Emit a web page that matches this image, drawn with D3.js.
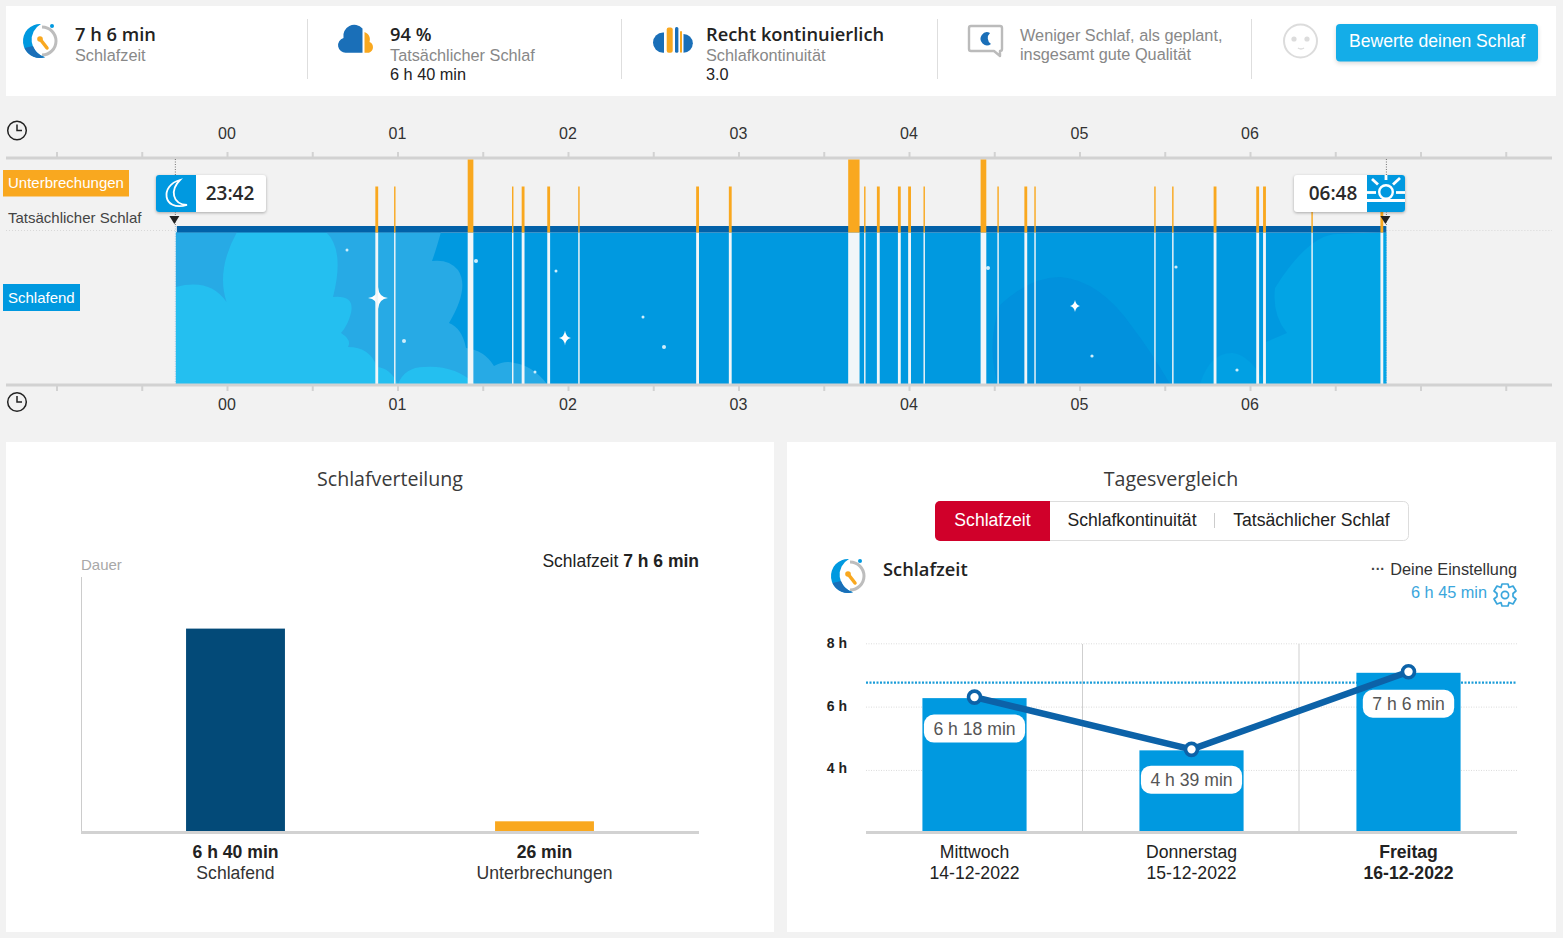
<!DOCTYPE html>
<html lang="de">
<head>
<meta charset="utf-8">
<title>Schlaf</title>
<script src="https://cdn.jsdelivr.net/npm/d3@7"></script>
<style>
html,body{margin:0;padding:0;background:#f2f2f2;overflow:hidden}
svg{display:block}
text{font-family:"Liberation Sans",Arial,sans-serif}
.os{font-family:"Open Sans",sans-serif}
.axis path{stroke:#d2d2d2;stroke-width:3}
.axis line{stroke:#d2d2d2;stroke-width:2}
.axis text{font-size:16px;fill:#333}
</style>
</head>
<body>
<svg id="c" width="1563" height="938" viewBox="0 0 1563 938"></svg>
<script>
// ---------- data ----------
const sleepStartMin = -18;              // 23:42
const sleepEndMin = 408;                // 06:48
const timeTicksMin = [-60,-30,0,30,60,90,120,150,180,210,240,270,300,330,360,390,420,450];
const hourLabels = ["00","01","02","03","04","05","06"];
const interruptionStart = [52.2,58.8,84.7,100.3,103.7,112.7,123.6,165.1,176.6,218.6,224.2,228.7,236.1,239.7,245.1,265.2,271.1,280.6,284.1,326.3,332.6,347.2,362.2,364.6,381.6,405.9];
const interruptionLength = [1,0.5,2,0.5,1,1,0.5,1,1,4,0.5,1,1,1,0.5,2,0.5,1,0.5,0.5,0.5,1,1,1,0.5,1];
const distCategories = ["Schlafend","Unterbrechungen"];
const distMinutes = [400,26];
const distLabels = ["6 h 40 min","26 min"];
const distColors = ["#034a78","#f9a81f"];
const days = ["Mittwoch","Donnerstag","Freitag"];
const dates = ["14-12-2022","15-12-2022","16-12-2022"];
const sleepHours = [6.3,4.65,7.1];
const sleepHourLabels = ["6 h 18 min","4 h 39 min","7 h 6 min"];
const goalHours = 6.75;
const hourTicks = [8,6,4];
const segments = ["Schlafzeit","Schlafkontinuität","Tatsächlicher Schlaf"];

// ---------- helpers ----------
const svg = d3.select("#c");
const BLUE="#0099e0", ORANGE="#f9a81f", DARK="#1a6fb8";
function txt(p,x,y,s,o={}){
  const t=p.append("text").attr("x",x).attr("y",y).text(s)
    .attr("font-size",o.size||16.3).attr("fill",o.fill||"#333")
    .attr("text-anchor",o.anchor||"start");
  if(o.weight) t.attr("font-weight",o.weight);
  if(o.cls) t.attr("class",o.cls);
  return t;
}
function rect(p,x,y,w,h,f,r){return p.append("rect").attr("x",x).attr("y",y).attr("width",w).attr("height",h).attr("fill",f).attr("rx",r||0);}
function sleepIcon(x,y){
  const g=svg.append("g").attr("transform",`translate(${x},${y})`);
  g.append("path").attr("d","M2,-14 A14,14 0 1 1 2,14").attr("fill","none").attr("stroke","#bdbdbd").attr("stroke-width",3);
  g.append("path").attr("d","M1,-17 A17,17 0 1 0 5,16.2 A18,18 0 0 1 1,-17Z").attr("fill",BLUE);
  g.append("path").attr("d","M-15.5,7 A17,17 0 0 0 5,16.2 A18,18 0 0 1 -7,5Z").attr("fill",DARK);
  g.append("line").attr("x1",0).attr("y1",-2).attr("x2",7).attr("y2",7).attr("stroke",ORANGE).attr("stroke-width",3.5).attr("stroke-linecap","round");
  g.append("circle").attr("cx",0).attr("cy",-2).attr("r",2.8).attr("fill",ORANGE);
  g.append("circle").attr("cx",12).attr("cy",-15).attr("r",2).attr("fill",BLUE);
}
function clockIcon(x,y){
  const g=svg.append("g").attr("transform",`translate(${x},${y})`).attr("fill","none").attr("stroke","#222").attr("stroke-width",1.5);
  g.append("circle").attr("r",9.3);
  g.append("path").attr("d","M0,-6 V0 H5");
}

// ---------- top summary card ----------
rect(svg,6,6,1550,90,"#fff");
[308,622,938,1252].forEach(x=>svg.append("line").attr("x1",x-.5).attr("x2",x-.5).attr("y1",19).attr("y2",79).attr("stroke","#dedede"));
sleepIcon(40,41);
txt(svg,75,41,"7 h 6 min",{size:18.3,weight:600,cls:"os",fill:"#222"});
txt(svg,75,61,"Schlafzeit",{fill:"#888"});
svg.append("path").attr("d","M362.5,52.7 H346 A7.5,7.5 0 0 1 343.5,38 A11,11 0 0 1 362.5,28.5Z").attr("fill",DARK);
svg.append("path").attr("d","M364.5,32 C370,34 370.5,39 369.5,42 C374,43.5 374.5,51 369,52.7 H364.5Z").attr("fill",ORANGE);
txt(svg,390,41,"94 %",{size:18.3,weight:600,cls:"os",fill:"#222"});
txt(svg,390,61,"Tatsächlicher Schlaf",{fill:"#888"});
txt(svg,390,80,"6 h 40 min",{fill:"#222"});
svg.append("path").attr("d","M664,32.5 V52.7 H663 A10,10.1 0 0 1 663,32.5Z").attr("fill",DARK);
rect(svg,666.7,27.5,6,25.2,ORANGE,2);
rect(svg,675,27,3.4,25.7,DARK,1.5);
rect(svg,680,31,2,21.7,ORANGE,1);
svg.append("path").attr("d","M683.5,34 A9,9 0 0 1 683.5,52.7Z").attr("fill",DARK);
txt(svg,706,41,"Recht kontinuierlich",{size:18.3,weight:600,cls:"os",fill:"#222"});
txt(svg,706,61,"Schlafkontinuität",{fill:"#888"});
txt(svg,706,80,"3.0",{fill:"#222"});
svg.append("path").attr("d","M971,26 H1000 A2,2 0 0 1 1002,28 V49 A2,2 0 0 1 1000,51 V56 L994,51 H971 A2,2 0 0 1 969,49 V28 A2,2 0 0 1 971,26Z").attr("fill","#fff").attr("stroke","#bbb").attr("stroke-width",2.4).attr("stroke-linejoin","round");
svg.append("path").attr("d","M990,33 A6.5,6.5 0 1 0 991,44 A7,7 0 0 1 990,33Z").attr("fill",DARK);
txt(svg,1020,41,"Weniger Schlaf, als geplant,",{fill:"#888"});
txt(svg,1020,60,"insgesamt gute Qualität",{fill:"#888"});
svg.append("circle").attr("cx",1300.5).attr("cy",41).attr("r",16.5).attr("fill","none").attr("stroke","#dcdcdc").attr("stroke-width",2);
[1294,1307].forEach(x=>svg.append("circle").attr("cx",x).attr("cy",39).attr("r",2.6).attr("fill","#dcdcdc"));
svg.append("path").attr("d","M1298,48 Q1301,50 1304,48").attr("fill","none").attr("stroke","#dcdcdc").attr("stroke-width",1.5);
rect(svg,1336,24,202,37.5,"#14ade8",4).style("filter","drop-shadow(0 2px 2px rgba(0,0,0,.15))");
txt(svg,1437,46.8,"Bewerte deinen Schlaf",{size:17.6,fill:"#fff",anchor:"middle"});

// ---------- timeline ----------
const x = d3.scaleLinear().domain([0,360]).range([227,1250]);
const hourLabel = m => (m>=0 && m%60===0 && hourLabels[m/60]) || "";
const topAxis = d3.axisTop(x).tickValues(timeTicksMin).tickSize(6).tickPadding(13).tickSizeOuter(0).tickFormat(hourLabel);
const botAxis = d3.axisBottom(x).tickValues(timeTicksMin).tickSize(6).tickPadding(7.5).tickSizeOuter(0).tickFormat(hourLabel);
const axisDomainOverride = sel => {sel.select(".domain").attr("d","M6,0H1552"); sel.selectAll("text").attr("dx",-.5);};
svg.append("g").attr("class","axis").attr("transform","translate(0,158)").call(topAxis).call(axisDomainOverride);

const sx0=x(sleepStartMin), sx1=x(sleepEndMin);
const yStripe=226, ySleep=232.5, yBase=384;
svg.append("line").attr("x1",6).attr("x2",sx0).attr("y1",230.5).attr("y2",230.5).attr("stroke","#d8d8d8").attr("stroke-dasharray","1 2");
svg.append("line").attr("x1",sx1).attr("x2",1552).attr("y1",230.5).attr("y2",230.5).attr("stroke","#d8d8d8").attr("stroke-dasharray","1 2");

const defs=svg.append("defs");
defs.append("clipPath").attr("id","sleepClip").append("rect").attr("x",sx0).attr("y",ySleep).attr("width",sx1-sx0).attr("height",yBase-ySleep);
rect(svg,sx0,ySleep,sx1-sx0,yBase-ySleep,BLUE);
const art=svg.append("g").attr("clip-path","url(#sleepClip)");
// decorative night-sky artwork behind the timeline
art.append("path").attr("fill","#27aae5").attr("d","M176,232 H441 Q436,250 432,261 Q449,259 458,270 Q470,288 449,323 Q462,328 466,348 Q484,350 494,366 Q505,360 514,363 Q532,365 547,384 H176Z");
art.append("path").attr("fill","#24bff0").attr("d","M176,287 Q210,278 226.5,302 Q216,270 237,232 H326 Q345,250 333,297 Q355,295 351,313 Q348,325 341,333 Q352,340 348,347 Q370,347 377,367 Q390,368 398,384 Q405,367 424,367 Q455,365 475,384 H176Z");
art.append("path").attr("fill","#0189da").attr("opacity",.5).attr("d","M998,384 Q986,345 1000,305 Q1030,277 1060,277 Q1100,280 1133,328 Q1150,350 1170,384Z");
art.append("path").attr("fill","#02a4e5").attr("d","M1388,232 L1340,234 Q1310,232 1275,288 Q1272,315 1287,333 L1266,342 Q1262,365 1262,384 H1388Z");
art.append("path").attr("fill","#01a0e3").attr("d","M1200,384 Q1210,352 1233,353 Q1250,355 1266,384Z");
// stars
[[347,250,1.5],[404,341,2],[476,261,2],[556,271,1.5],[643,317,1.5],[664,347,2],[535,372,1.5],[988,268,2],[1092,356,1.6],[1176,267,1.6],[1237,370,1.6]]
 .forEach(d=>art.append("circle").attr("cx",d[0]).attr("cy",d[1]).attr("r",d[2]).attr("fill","#cfeefb"));
const star=(cx,cy,rx,ry)=>`M${cx},${cy-ry} Q${cx+.8},${cy-.8} ${cx+rx},${cy} Q${cx+.8},${cy+.8} ${cx},${cy+ry} Q${cx-.8},${cy+.8} ${cx-rx},${cy} Q${cx-.8},${cy-.8} ${cx},${cy-ry}Z`;
[[378,298,10,11],[565,338,6,7.5],[1075,306,5,6]].forEach(d=>art.append("path").attr("d",star(...d)).attr("fill","#fff"));

// actual sleep stripe
rect(svg,sx0+1,yStripe,sx1-sx0-1,ySleep-yStripe,"#0261a8");

const interruptions = interruptionStart.map((s,i)=>({s,len:interruptionLength[i]}));
svg.append("g").selectAll("rect").data(interruptions).join("rect")
  .attr("x",d=>x(d.s)).attr("width",d=>x(d.s+d.len)-x(d.s))
  .attr("y",ySleep).attr("height",yBase-ySleep).attr("fill","#f1f6f8");
svg.append("g").selectAll("rect").data(interruptions).join("rect")
  .attr("x",d=>x(d.s)).attr("width",d=>x(d.s+d.len)-x(d.s))
  .attr("y",d=>d.len>=2?159.5:186.5).attr("height",d=>ySleep-(d.len>=2?159.5:186.5)).attr("fill",ORANGE);

[sx0-.5,sx1].forEach(px=>{
  svg.append("line").attr("x1",px).attr("x2",px).attr("y1",159).attr("y2",yStripe).attr("stroke","#555").attr("stroke-width",.8).attr("stroke-dasharray","1 1.5");
  svg.append("line").attr("x1",px).attr("x2",px).attr("y1",yStripe).attr("y2",yBase).attr("stroke","#9ccbe4").attr("stroke-width",1).attr("stroke-dasharray","1 1.5");
});
svg.append("g").attr("class","axis").attr("transform","translate(0,385)").call(botAxis).call(axisDomainOverride);
[sx0-1.5,sx1-1].forEach(px=>svg.append("path").attr("d",`M${px-5},216 h10 l-5,8Z`).attr("fill","#222"));
clockIcon(17,130.5); clockIcon(17,402);

// row labels
rect(svg,3,170,126,26.5,ORANGE);
txt(svg,8,188,"Unterbrechungen",{size:15,fill:"#fff"});
txt(svg,8,222.5,"Tatsächlicher Schlaf",{size:15,fill:"#444"});
rect(svg,3,284,77,27,BLUE);
txt(svg,8,302.5,"Schlafend",{size:15,fill:"#fff"});

// start marker
const shadow="drop-shadow(0 1px 1.5px rgba(0,0,0,.3))";
rect(svg,156,175,110,37,"#fff",3).style("filter",shadow);
svg.append("path").attr("d","M159,175 H196 V212 H159 A3,3 0 0 1 156,209 V178 A3,3 0 0 1 159,175Z").attr("fill",BLUE);
svg.append("path").attr("d","M180,180 C160,185 162,212 187,205 C172,204 170,190 180,180Z").attr("fill","none").attr("stroke","#fff").attr("stroke-width",1.8);
txt(svg,230,200,"23:42",{size:19,weight:600,cls:"os",fill:"#2a2a2a",anchor:"middle"});
// end marker
rect(svg,1294,175,111,37,"#fff",3).style("filter",shadow);
svg.append("path").attr("d","M1367,175 H1402 A3,3 0 0 1 1405,178 V209 A3,3 0 0 1 1402,212 H1367Z").attr("fill",BLUE);
svg.append("circle").attr("cx",1386).attr("cy",192).attr("r",6.8).attr("fill",BLUE).attr("stroke","#fff").attr("stroke-width",2.4);
const sun=svg.append("g").attr("stroke","#fff").attr("stroke-width",2.8);
[[1386,175,1386,180],[1372,179,1378,184.5],[1400,178,1393,184.5],[1367,192.5,1376,192.5],[1396,192.5,1405,192.5]]
  .forEach(d=>sun.append("line").attr("x1",d[0]).attr("y1",d[1]).attr("x2",d[2]).attr("y2",d[3]));
rect(svg,1367,199,38,3,"#fff");
txt(svg,1333,200,"06:48",{size:19,weight:600,cls:"os",fill:"#2a2a2a",anchor:"middle"});

// ---------- bottom-left panel ----------
rect(svg,6,442,768,490,"#fff");
txt(svg,390,486,"Schlafverteilung",{size:19.6,cls:"os",anchor:"middle",fill:"#3a3a3a"});
txt(svg,81,570,"Dauer",{size:15,fill:"#a8a8a8"});
const st=txt(svg,699,567,"Schlafzeit ",{size:17.5,anchor:"end",fill:"#222"});
st.append("tspan").attr("font-weight","bold").text("7 h 6 min");
svg.append("line").attr("x1",81.5).attr("x2",81.5).attr("y1",577).attr("y2",832).attr("stroke","#ccc");
const xd = d3.scaleBand().domain(distCategories).range([81,699]).paddingInner(.68).paddingOuter(.34);
// the picture's short bar is drawn shorter than linear, so the scale is piecewise
const yd = d3.scaleLinear().domain([0,26,400]).range([832,821.3,628.6]);
svg.append("g").selectAll("rect").data(distCategories).join("rect")
  .attr("x",d=>xd(d)).attr("width",xd.bandwidth())
  .attr("y",(d,i)=>yd(distMinutes[i])).attr("height",(d,i)=>832-yd(distMinutes[i]))
  .attr("fill",(d,i)=>distColors[i]);
svg.append("line").attr("x1",81).attr("x2",699).attr("y1",832.5).attr("y2",832.5).attr("stroke","#d2d2d2").attr("stroke-width",3);
distCategories.forEach((c,i)=>{
  const cx=xd(c)+xd.bandwidth()/2;
  txt(svg,cx,858,distLabels[i],{size:17.6,weight:"bold",anchor:"middle",fill:"#222"});
  txt(svg,cx,879,c,{size:17.6,anchor:"middle",fill:"#333"});
});

// ---------- bottom-right panel ----------
rect(svg,787,442,769,490,"#fff");
txt(svg,1171,486,"Tagesvergleich",{size:19.6,cls:"os",anchor:"middle",fill:"#3a3a3a"});
rect(svg,935.5,501.5,473,39,"#fff",5).attr("stroke","#ddd");
svg.append("path").attr("d","M940,501 H1050 V541 H940 A5,5 0 0 1 935,536 V506 A5,5 0 0 1 940,501Z").attr("fill","#d0002a");
[992.5,1132,1311.5].forEach((cx,i)=>txt(svg,cx,526.3,segments[i],{size:17.6,anchor:"middle",fill:i?"#222":"#fff"}));
svg.append("line").attr("x1",1214.5).attr("x2",1214.5).attr("y1",513).attr("y2",528).attr("stroke","#ccc");
sleepIcon(848,576);
txt(svg,883,576,"Schlafzeit",{size:18.3,weight:600,cls:"os",fill:"#222"});
txt(svg,1517,575,"Deine Einstellung",{size:16.3,anchor:"end",fill:"#333"});
txt(svg,1371,574,"···",{size:14,weight:"bold",fill:"#444"});
txt(svg,1487,598,"6 h 45 min",{size:16.3,anchor:"end",fill:"#3aa6dc"});
// gear
const gear=svg.append("g").attr("transform","translate(1505,595)");
gear.append("path").attr("fill","none").attr("stroke","#3aa6dc").attr("stroke-width",1.7).attr("stroke-linejoin","round")
  .attr("d","M-3,-11 H3 L4,-7.5 L8,-9 L11,-4 L8,-1.5 V1.5 L11,4 L8,9 L4,7.5 L3,11 H-3 L-4,7.5 L-8,9 L-11,4 L-8,1.5 V-1.5 L-11,-4 L-8,-9 L-4,-7.5Z");
gear.append("circle").attr("r",3.6).attr("fill","none").attr("stroke","#3aa6dc").attr("stroke-width",1.7);

const xc = d3.scaleBand().domain(days).range([866,1517]).paddingInner(.52).paddingOuter(.26);
const yc = d3.scaleLinear().domain([2.04,8]).range([832,643.3]);
const yAxisC = d3.axisLeft(yc).tickValues(hourTicks).tickSize(0).tickPadding(19).tickFormat(d=>d+" h");
const yG=svg.append("g").attr("transform","translate(866,0)").call(yAxisC);
yG.select(".domain").remove();
const tickLabelNudge=[0,-.8,-1.8];
yG.selectAll("text").attr("font-size",14).attr("font-weight","bold").attr("fill","#222").attr("dy",".3em").attr("y",(d,i)=>tickLabelNudge[i]);
yG.selectAll(".tick").append("line").attr("x2",651).attr("stroke","#dcdcdc").attr("stroke-dasharray","1 1.5");
[1082.5,1299].forEach(px=>svg.append("line").attr("x1",px).attr("x2",px).attr("y1",644).attr("y2",832).attr("stroke","#cfcfcf"));
svg.append("line").attr("x1",866).attr("x2",1517).attr("y1",yc(goalHours)-.3).attr("y2",yc(goalHours)-.3).attr("stroke","#1a9cd8").attr("stroke-width",2.4).attr("stroke-dasharray","2 1.5");
svg.append("g").selectAll("rect").data(days).join("rect")
  .attr("x",d=>xc(d)).attr("width",xc.bandwidth())
  .attr("y",(d,i)=>yc(sleepHours[i])+1).attr("height",(d,i)=>832-yc(sleepHours[i]))
  .attr("fill",BLUE);
svg.append("line").attr("x1",866).attr("x2",1517).attr("y1",832.5).attr("y2",832.5).attr("stroke","#d2d2d2").attr("stroke-width",3);
const cxDay=d=>xc(d)+xc.bandwidth()/2;
svg.append("path").datum(days).attr("fill","none").attr("stroke","#0c62a8").attr("stroke-width",6.5)
  .attr("d",d3.line().x(cxDay).y((d,i)=>yc(sleepHours[i])));
const pillOffset=[17.5,16.3,18];
days.forEach((d,i)=>{
  const cy=yc(sleepHours[i]), cx=cxDay(d);
  svg.append("circle").attr("cx",cx).attr("cy",cy).attr("r",6).attr("fill","#fff").attr("stroke","#0c62a8").attr("stroke-width",3.6);
  const g=svg.append("g");
  const t=txt(g,cx,cy+pillOffset[i]+20,sleepHourLabels[i],{size:17.6,anchor:"middle",fill:"#555"});
  const w=t.node().getComputedTextLength()+19;
  g.insert("rect","text").attr("x",cx-w/2).attr("y",cy+pillOffset[i]).attr("width",w).attr("height",28).attr("rx",10).attr("fill","#fff");
  const last=i===days.length-1;
  txt(svg,cx,858,d,{size:17.6,anchor:"middle",fill:"#222",weight:last?"bold":null});
  txt(svg,cx,879,dates[i],{size:17.6,anchor:"middle",fill:"#222",weight:last?"bold":null});
});
</script>
</body>
</html>
